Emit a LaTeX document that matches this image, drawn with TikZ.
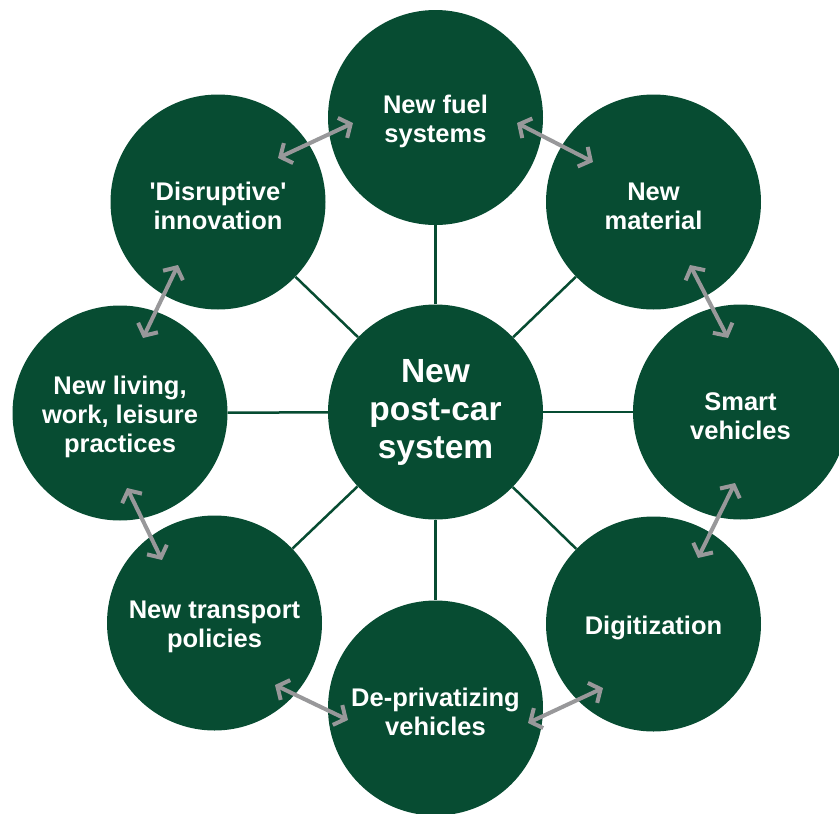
\documentclass[tikz,border=0pt]{standalone}
\usepackage{fontspec}
\setmainfont{Liberation Sans}[Ligatures=TeXOff]
\usetikzlibrary{arrows.meta}
\definecolor{dkgreen}{RGB}{7,76,50}
\definecolor{arrgray}{RGB}{152,152,154}
\tikzset{
  bubble/.style={circle, fill=dkgreen, draw=none, minimum size=215pt, inner sep=0pt},
  btxt/.style={text=white, align=center, yshift=-4pt,
    font=\bfseries\fontsize{25.5}{29}\selectfont},
  hub/.style={bubble, text=white, align=center, font=\bfseries\fontsize{33.5}{38}\selectfont},
  spoke/.style={draw=dkgreen, line width=2.5pt},
  link/.style={draw=arrgray, line width=4pt,
    {Straight Barb[length=9pt,width=22pt]}-{Straight Barb[length=9pt,width=22pt]}}
}
\begin{document}
\begin{tikzpicture}[x=1pt,y=-1pt]
\useasboundingbox (0,0) rectangle (839,814);
\clip (0,0) rectangle (839,814);
\node[hub] (C) at (435.5,412) {New\\post-car\\system};
\node[bubble, label={[btxt]center:{New fuel\\systems}}] (T) at (435.5,117.5) {};
\node[bubble, label={[btxt]center:{New\\material}}] (TR) at (653.5,202) {};
\node[bubble, label={[btxt]center:{Smart\\vehicles}}] (R) at (740.5,412) {};
\node[bubble, label={[btxt]center:{Digitization}}] (BR) at (653.5,624) {};
\node[bubble, label={[btxt]center:{De-privatizing\\vehicles}}] (B) at (435.5,708) {};
\node[bubble, label={[btxt]center:{New transport\\policies}}] (BL) at (214.5,623) {};
\node[bubble, label={[btxt]center:{New living,\\work, leisure\\practices}}] (L) at (120,413) {};
\node[bubble, label={[btxt]center:{'Disruptive'\\innovation}}] (TL) at (218,202) {};
\foreach \n in {T,TR,R,BR,B,BL,L,TL} \draw[spoke] (C) -- (\n);
\coordinate (a1) at (278,158); \coordinate (b1) at (353,123);
\coordinate (a2) at (517,123); \coordinate (b2) at (593,162);
\coordinate (a3) at (690,265); \coordinate (b3) at (728,338);
\coordinate (a4) at (735,483); \coordinate (b4) at (698,558);
\coordinate (a5) at (603,688); \coordinate (b5) at (528,723);
\coordinate (a6) at (348,720); \coordinate (b6) at (275,685);
\coordinate (a7) at (127,488); \coordinate (b7) at (162,560);
\coordinate (a8) at (143,338); \coordinate (b8) at (178,265);
\foreach \i in {1,...,8} \draw[link] (a\i) -- (b\i);
\end{tikzpicture}
\end{document}
